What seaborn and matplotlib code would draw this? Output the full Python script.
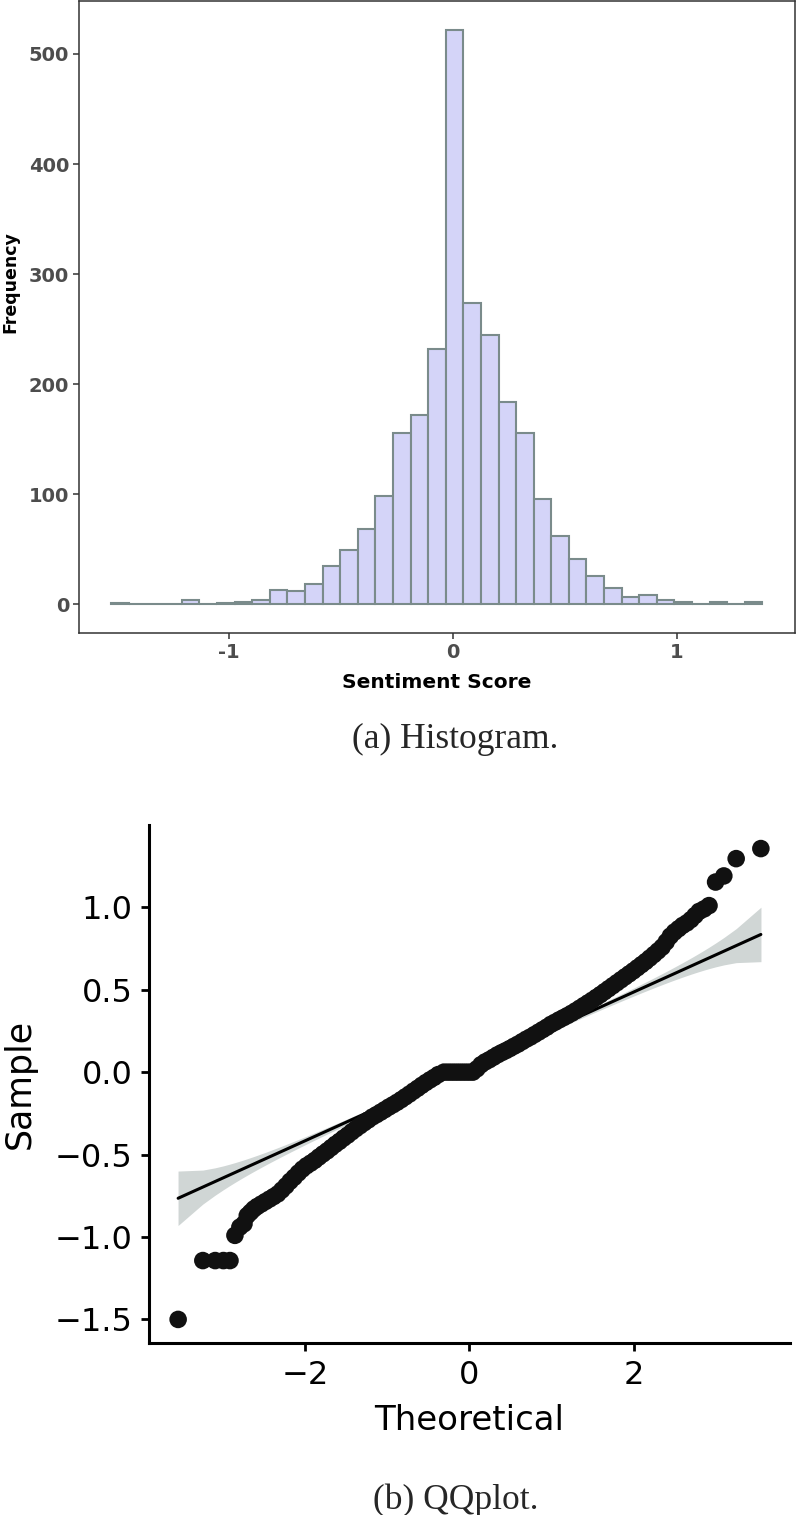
import numpy as np
import pandas as pd
import matplotlib
matplotlib.use("Agg")
import matplotlib.pyplot as plt
import seaborn as sns
from statistics import NormalDist

# ---------------- data ----------------
# (a) histogram of sentiment scores (37 bins)
hist_range = (-1.524, 1.3805)
hist_counts = [1, 0, 0, 0, 4, 0, 1, 2, 4, 13, 12, 18, 35, 49, 68, 98, 156, 172,
               232, 522, 274, 245, 184, 156, 96, 62, 41, 26, 15, 7, 8, 4, 2, 0,
               2, 0, 2]
hist_xticks = [-1, 0, 1]
hist_xticklabels = ["-1", "0", "1"]
hist_yticks = [0, 100, 200, 300, 400, 500]

# (b) QQ plot: theoretical vs sample quantiles
qq_theoretical = [
    -3.54, -3.24, -3.09, -2.99, -2.91, -2.85, -2.79, -2.74, -2.70, -2.66, -2.62,
    -2.58, -2.53, -2.48, -2.43, -2.38, -2.33, -2.28, -2.23, -2.18, -2.13, -2.08,
    -2.03, -1.98, -1.93, -1.88, -1.83, -1.78, -1.73, -1.68, -1.63, -1.58, -1.53,
    -1.48, -1.43, -1.38, -1.33, -1.28, -1.23, -1.18, -1.13, -1.08, -1.03, -0.98,
    -0.93, -0.88, -0.83, -0.78, -0.73, -0.68, -0.63, -0.58, -0.53, -0.48, -0.43,
    -0.38,
    -0.31, -0.26, -0.21, -0.16, -0.11, -0.06, -0.01, 0.04,
    0.09, 0.14, 0.19, 0.24, 0.29, 0.34, 0.39, 0.44, 0.49, 0.54, 0.59, 0.64, 0.69,
    0.74, 0.79, 0.84, 0.89, 0.94, 0.99, 1.04, 1.09, 1.14, 1.19, 1.24, 1.29, 1.34,
    1.39, 1.44, 1.49, 1.54, 1.59, 1.64, 1.69, 1.74, 1.79, 1.84, 1.89, 1.94, 1.99,
    2.04, 2.09, 2.14, 2.19, 2.24, 2.29, 2.34, 2.39, 2.44, 2.49, 2.54, 2.59, 2.64,
    2.69, 2.74, 2.79, 2.85, 2.91, 2.99, 3.09, 3.24, 3.54]
qq_sample = [
    -1.50, -1.143, -1.143, -1.143, -1.143, -0.99, -0.94, -0.92, -0.87, -0.85, -0.83,
    -0.815, -0.80, -0.785, -0.77, -0.755, -0.739, -0.715, -0.69, -0.662, -0.638, -0.612,
    -0.588, -0.568, -0.552, -0.535, -0.515, -0.496, -0.478, -0.458, -0.438, -0.42, -0.40,
    -0.382, -0.362, -0.343, -0.325, -0.307, -0.29, -0.272, -0.258, -0.243, -0.228, -0.212,
    -0.198, -0.183, -0.167, -0.15, -0.133, -0.115, -0.098, -0.08, -0.063, -0.047, -0.032,
    -0.015,
    0.0, 0.0, 0.0, 0.0, 0.0, 0.0, 0.0, 0.0,
    0.02, 0.045, 0.062, 0.075, 0.09, 0.105, 0.118, 0.13, 0.143, 0.157, 0.17, 0.185, 0.2,
    0.213, 0.228, 0.243, 0.258, 0.273, 0.29, 0.303, 0.317, 0.33, 0.343, 0.357, 0.372, 0.388,
    0.404, 0.42, 0.436, 0.453, 0.47, 0.488, 0.506, 0.524, 0.542, 0.56, 0.578, 0.596, 0.614,
    0.633, 0.652, 0.671, 0.692, 0.713, 0.735, 0.758, 0.79, 0.825, 0.85, 0.87, 0.89, 0.905,
    0.925, 0.95, 0.975, 0.99, 1.01, 1.153, 1.19, 1.295, 1.356]
qq_line_intercept = 0.035
qq_line_slope = 0.226
qq_conf_level = 0.95
qq_xticks = [-2, 0, 2]
qq_xticklabels = ["\u22122", "0", "2"]
qq_yticks = [-1.5, -1.0, -0.5, 0.0, 0.5, 1.0]
qq_yticklabels = ["\u22121.5", "\u22121.0", "\u22120.5", "0.0", "0.5", "1.0"]

# ---------------- style ----------------
sns.set_style("white")
plt.rcParams["font.family"] = ["DejaVu Sans"]

W, H = 796, 1515
fig = plt.figure(figsize=(W / 100, H / 100), dpi=100)


def fx(px):
    return px / W


def fy(py):
    return 1 - py / H


# ---------------- (a) histogram ----------------
ax1 = fig.add_axes([fx(79), fy(633), fx(795) - fx(79), fy(1) - fy(633)])
edges = [float(e) for e in np.linspace(hist_range[0], hist_range[1], len(hist_counts) + 1)]
centers = [(edges[i] + edges[i + 1]) / 2 for i in range(len(hist_counts))]
hist_df = pd.DataFrame({"score": centers, "count": hist_counts})
sns.histplot(data=hist_df, x="score", weights="count", bins=edges, ax=ax1,
             color="#D4D4F8", edgecolor="#7A8B8B", linewidth=1.5, alpha=1.0)
ax1.set_xlim(-1.669, 1.526)
ax1.set_ylim(-26.1, 548.1)
ax1.set_xticks(hist_xticks)
ax1.set_xticklabels(hist_xticklabels)
ax1.set_yticks(hist_yticks)
for sp in ax1.spines.values():
    sp.set_visible(True)
    sp.set_color("#333333")
    sp.set_linewidth(1.1)
ax1.tick_params(axis="both", which="both", direction="out", length=4.5, width=1.1,
                color="#333333", labelcolor="#4D4D4D", labelsize=14, pad=2.5,
                left=True, bottom=True)
for lab in ax1.get_xticklabels() + ax1.get_yticklabels():
    lab.set_fontweight("bold")
ax1.set_xlabel("Sentiment Score", fontsize=14.5, fontweight="bold", color="black")
ax1.set_ylabel("Frequency", fontsize=12.5, fontweight="bold", color="black")
ax1.xaxis.set_label_coords(0.5, (fy(682) - fy(633)) / (fy(1) - fy(633)))
ax1.xaxis.label.set_verticalalignment("center")
ax1.yaxis.set_label_coords((fx(10) - fx(79)) / (fx(795) - fx(79)),
                           (fy(282) - fy(633)) / (fy(1) - fy(633)))
ax1.yaxis.label.set_verticalalignment("center")
ax1.grid(False)

fig.text(fx(455), fy(739), "(a) Histogram.", ha="center", va="center",
         fontsize=25.5, family=["Liberation Serif", "DejaVu Serif"])

# ---------------- (b) QQ plot ----------------
ax2 = fig.add_axes([fx(149), fy(1343), fx(790) - fx(149), fy(825) - fy(1343)])
qq_df = pd.DataFrame({"Theoretical": qq_theoretical, "Sample": qq_sample})

n_obs = int(sum(hist_counts))
nd = NormalDist()
P = (np.arange(1, n_obs + 1) - 0.5) / n_obs
z = np.array([nd.inv_cdf(p) for p in P])
dens = np.array([nd.pdf(v) for v in z])
zz = nd.inv_cdf(1 - (1 - qq_conf_level) / 2)
SE = (qq_line_slope / dens) * np.sqrt(P * (1 - P) / n_obs)
fit = qq_line_intercept + qq_line_slope * z
ax2.fill_between(z, fit - zz * SE, fit + zz * SE, color="#D0D6D5", lw=0, zorder=1)

line_df = pd.DataFrame({"Theoretical": [min(qq_theoretical), max(qq_theoretical)]})
line_df["Sample"] = qq_line_intercept + qq_line_slope * line_df["Theoretical"]
sns.lineplot(data=line_df, x="Theoretical", y="Sample", color="black", lw=2.2,
             ax=ax2, zorder=2)
sns.scatterplot(data=qq_df, x="Theoretical", y="Sample", color="#111111", s=160,
                edgecolor="none", linewidth=0, ax=ax2, zorder=3)

ax2.set_xlim(-3.894, 3.894)
ax2.set_ylim(-1.643, 1.499)
ax2.set_xticks(qq_xticks)
ax2.set_xticklabels(qq_xticklabels)
ax2.set_yticks(qq_yticks)
ax2.set_yticklabels(qq_yticklabels)
ax2.spines["top"].set_visible(False)
ax2.spines["right"].set_visible(False)
for side in ("left", "bottom"):
    ax2.spines[side].set_color("black")
    ax2.spines[side].set_linewidth(2.2)
ax2.tick_params(axis="both", direction="out", length=6, width=2.0, color="black",
                labelcolor="black", labelsize=23, pad=6, left=True, bottom=True)
ax2.set_xlabel("Theoretical", fontsize=24.5, color="black")
ax2.set_ylabel("Sample", fontsize=25, color="black")
ax2.xaxis.set_label_coords(0.5, (fy(1421) - fy(1343)) / (fy(825) - fy(1343)))
ax2.xaxis.label.set_verticalalignment("center")
ax2.yaxis.set_label_coords((fx(20) - fx(149)) / (fx(790) - fx(149)), 0.5)
ax2.yaxis.label.set_verticalalignment("center")
ax2.grid(False)

fig.text(fx(456), fy(1500), "(b) QQplot.", ha="center", va="center",
         fontsize=25.5, family=["Liberation Serif", "DejaVu Serif"])

fig.savefig("out.png", dpi=100)
